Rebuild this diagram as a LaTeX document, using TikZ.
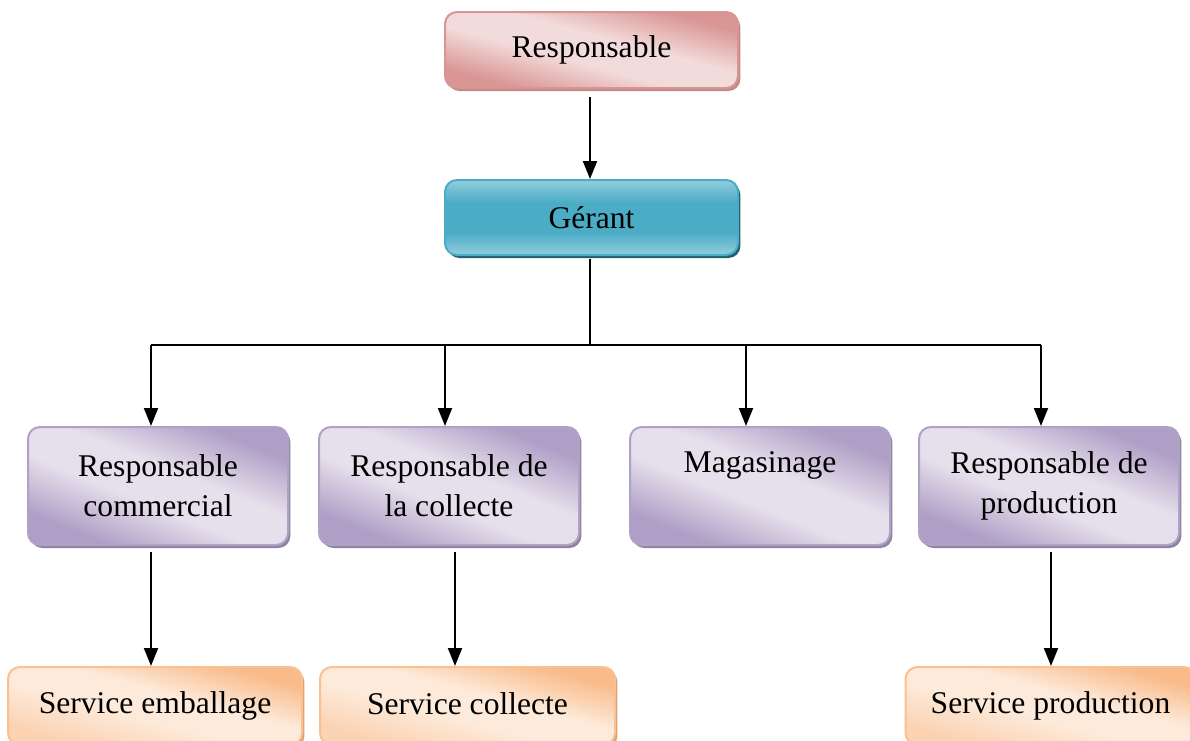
\documentclass[tikz,border=0pt]{standalone}
\usepackage{fontspec}
\setmainfont{Liberation Serif}
\usetikzlibrary{arrows.meta,shadows}

\definecolor{pinkD}{HTML}{DA9695}
\definecolor{pinkL}{HTML}{F2DCDB}
\definecolor{pinkB}{HTML}{D99594}
\definecolor{pinkS}{HTML}{C48987}
\definecolor{tealD}{HTML}{4BACC6}
\definecolor{tealL}{HTML}{93CDDD}
\definecolor{tealB}{HTML}{4BACC6}
\definecolor{tealS}{HTML}{215F6F}
\definecolor{purD}{HTML}{AF9FC6}
\definecolor{purL}{HTML}{E6E0EC}
\definecolor{purB}{HTML}{B2A1C7}
\definecolor{purS}{HTML}{8E84A0}
\definecolor{orD}{HTML}{F9BB8A}
\definecolor{orM}{HTML}{FBD3B3}
\definecolor{orL}{HTML}{FDEADA}
\definecolor{orB}{HTML}{FAC090}
\definecolor{orS}{HTML}{D9A27A}

% diagonal bands: dark corners, light middle
\pgfdeclareverticalshading{pinkband}{100bp}{color(0bp)=(pinkD); color(27bp)=(pinkD);
  color(44bp)=(pinkL); color(56bp)=(pinkL); color(73bp)=(pinkD); color(100bp)=(pinkD)}
\pgfdeclareverticalshading{purband}{100bp}{color(0bp)=(purD); color(27bp)=(purD);
  color(44bp)=(purL); color(56bp)=(purL); color(73bp)=(purD); color(100bp)=(purD)}
\pgfdeclareverticalshading{orband}{100bp}{color(0bp)=(orM); color(27bp)=(orM);
  color(44bp)=(orL); color(56bp)=(orL); color(73bp)=(orD); color(100bp)=(orD)}
\pgfdeclareverticalshading{tealband}{100bp}{color(0bp)=(tealL); color(25bp)=(tealL);
  color(40bp)=(tealD); color(60bp)=(tealD); color(75bp)=(tealL); color(100bp)=(tealL)}

\tikzset{
  box/.style={rounded corners=6pt, line width=1pt, align=center,
    font=\fontsize{15.8}{20}\selectfont, text=black, inner sep=0pt},
  rbox/.style={box, draw=pinkB, shading=pinkband, shading angle=-15,
    general shadow={fill=pinkS, shadow xshift=1.2pt, shadow yshift=-1.5pt},
    minimum width=146.5pt, minimum height=38pt},
  gbox/.style={box, draw=tealB, shading=tealband,
    general shadow={fill=tealS, shadow xshift=1.2pt, shadow yshift=-1.5pt},
    minimum width=146.5pt, minimum height=37.5pt},
  pbox/.style={box, draw=purB, shading=purband, shading angle=-22,
    general shadow={fill=purS, shadow xshift=1.2pt, shadow yshift=-1.5pt},
    minimum width=130pt, minimum height=59pt},
  obox/.style={box, draw=orB, shading=orband, shading angle=-15,
    general shadow={fill=orS, shadow xshift=1.2pt, shadow yshift=-1.5pt},
    minimum height=39pt},
  link/.style={line width=1pt, draw=black},
  arr/.style={link, -{Triangle[width=7pt,length=9pt]}}
}

\begin{document}
\begin{tikzpicture}[x=0.5pt, y=-0.5pt]
  \clip (0,0) rectangle (1190,740);
  \useasboundingbox (0,0) rectangle (1190,740);

  % top of the chart
  \node[rbox] (resp) at (591.5,50) {Responsable};
  \node[gbox] (gerant) at (591.5,217.5) {Gérant};

  % departments
  \node[pbox] (com)  at (158,486) {Responsable\\commercial};
  \node[pbox] (col)  at (449,486) {Responsable de\\la collecte};
  \node[pbox] (mag)  at (760,486) {\raisebox{-2.5pt}{Magasinage}\\\strut};
  \node[pbox] (prod) at (1049,486) {Responsable de\\production};

  % services
  \node[obox, minimum width=147pt] (emb) at (155,706) {\raisebox{2pt}{Service emballage}};
  \node[obox, minimum width=147.5pt] (scol) at (467.5,706) {\raisebox{2pt}{Service collecte}};
  \node[obox, minimum width=145pt] (sprod) at (1050.5,706) {\raisebox{2pt}{Service production}};

  % bus points
  \coordinate (hub) at (590,345);
  \coordinate (b1) at (151,345);
  \coordinate (b2) at (445,345);
  \coordinate (b3) at (746,345);
  \coordinate (b4) at (1041,345);
  \coordinate (s1) at (151,552);
  \coordinate (s2) at (455,552);
  \coordinate (s4) at (1051,552);

  % connectors
  \draw[arr] ([yshift=-4pt]resp.south -| hub) -- (gerant.north -| hub);
  \draw[link] ([yshift=-1.5pt]gerant.south -| hub) -- (hub);
  \draw[link] (b1) -- (b4);
  \draw[arr] (b1) -- (b1 |- com.north);
  \draw[arr] (b2) -- (b2 |- col.north);
  \draw[arr] (b3) -- (b3 |- mag.north);
  \draw[arr] (b4) -- (b4 |- prod.north);
  \draw[arr] (s1) -- (s1 |- emb.north);
  \draw[arr] (s2) -- (s2 |- scol.north);
  \draw[arr] (s4) -- (s4 |- sprod.north);
\end{tikzpicture}
\end{document}
